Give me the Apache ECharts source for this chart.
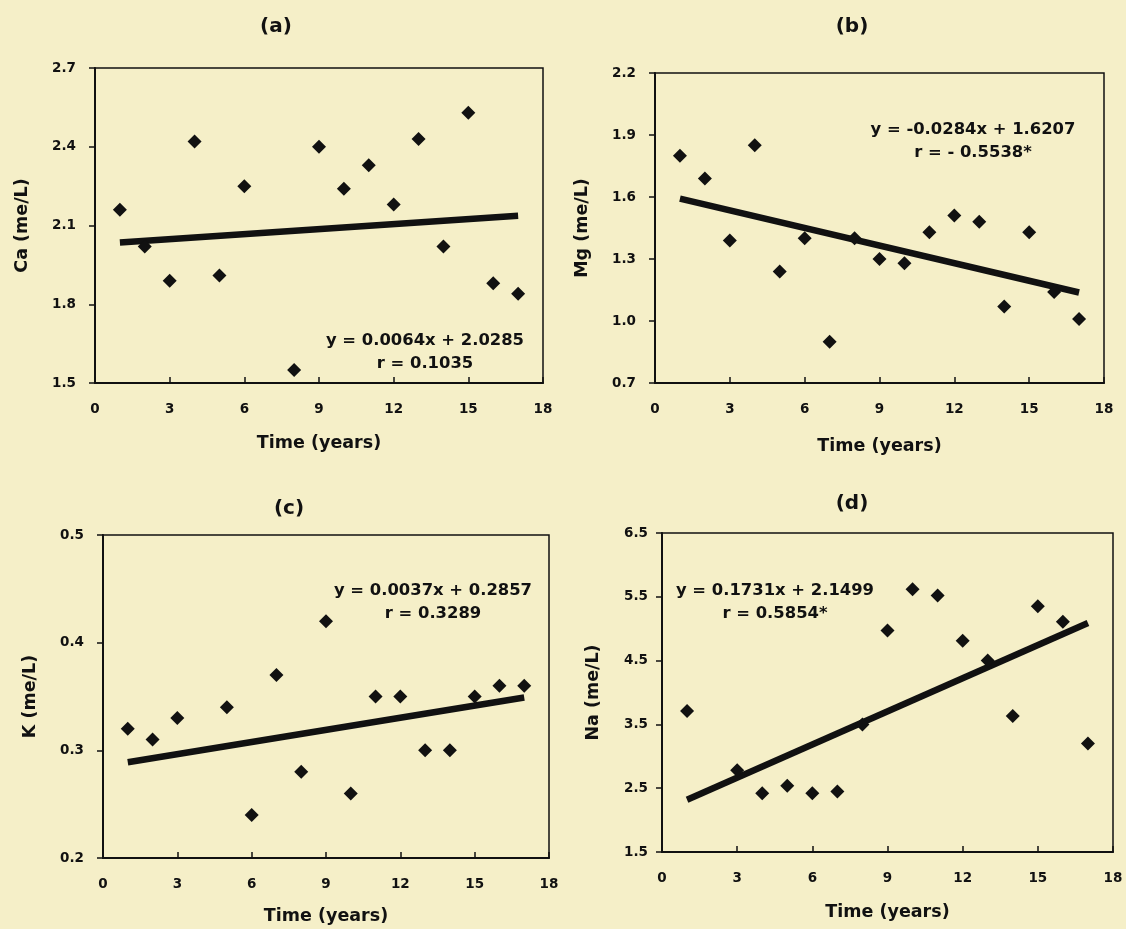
<!DOCTYPE html>
<html>
<head>
<meta charset="utf-8">
<script src="https://cdn.jsdelivr.net/npm/echarts@6/dist/echarts.min.js"></script>
<style>
html,body{margin:0;padding:0;background:#f5efc8;}
#chart{width:1126px;height:929px;}
</style>
</head>
<body>
<div id="chart"></div>
<script>
// ---- data ----
const caYears = [1,2,3,4,5,6,8,9,10,11,12,13,14,15,16,17];
const caValues = [2.16,2.02,1.89,2.42,1.91,2.25,1.55,2.40,2.24,2.33,2.18,2.43,2.02,2.53,1.88,1.84];
const caTrend = [[1,2.035],[17,2.137]];
const caTicks = [1.5,1.8,2.1,2.4,2.7];

const mgYears = [1,2,3,4,5,6,7,8,9,10,11,12,13,14,15,16,17];
const mgValues = [1.80,1.69,1.39,1.85,1.24,1.40,0.90,1.40,1.30,1.28,1.43,1.51,1.48,1.07,1.43,1.14,1.01];
const mgTrend = [[1,1.592],[17,1.138]];
const mgTicks = [0.7,1.0,1.3,1.6,1.9,2.2];

const kYears = [1,2,3,5,6,7,8,9,10,11,12,13,14,15,16,17];
const kValues = [0.32,0.31,0.33,0.34,0.24,0.37,0.28,0.42,0.26,0.35,0.35,0.30,0.30,0.35,0.36,0.36];
const kTrend = [[1,0.289],[17,0.349]];
const kTicks = [0.2,0.3,0.4,0.5];

const naYears = [1,3,4,5,6,7,8,9,10,11,12,13,14,15,16,17];
const naValues = [3.71,2.78,2.42,2.54,2.42,2.45,3.50,4.97,5.62,5.52,4.81,4.50,3.63,5.35,5.11,3.20];
const naTrend = [[1,2.32],[17,5.09]];
const naTicks = [1.5,2.5,3.5,4.5,5.5,6.5];

const timeTicks = [0,3,6,9,12,15,18];
const panelTitles = ['(a)','(b)','(c)','(d)'];
const yNames = ['Ca (me/L)','Mg (me/L)','K (me/L)','Na (me/L)'];
const xName = 'Time (years)';
const equations = [
  ['y = 0.0064x + 2.0285','r = 0.1035'],
  ['y = -0.0284x + 1.6207','r = - 0.5538*'],
  ['y = 0.0037x + 0.2857','r = 0.3289'],
  ['y = 0.1731x + 2.1499','r = 0.5854*']
];

// ---- layout ----
const FONT = 'DejaVu Sans';
const INK = '#111111';
const grids = [
  {left:95, top:68, width:448, height:315},
  {left:655, top:73, width:449, height:310},
  {left:103, top:535, width:446, height:323},
  {left:662, top:533, width:451, height:319}
];
const titlePos = [[276,27],[852,27],[289,509],[852,504]];
const eqPos = [[425,329],[973,118],[433,579],[775,579]];
const yLabelMargin = [19,19,19,14];
const yNameGap = [64,64,64,60];

const pts = (xs, ys) => xs.map((x,i)=>[x, ys[i]]);
const scatterSets = [pts(caYears,caValues), pts(mgYears,mgValues), pts(kYears,kValues), pts(naYears,naValues)];
const trendSets = [caTrend, mgTrend, kTrend, naTrend];
const yTickSets = [caTicks, mgTicks, kTicks, naTicks];

const labelFont = {fontFamily:FONT, fontWeight:'bold', fontSize:13.5, color:INK};
const nameFont = {fontFamily:FONT, fontWeight:'bold', fontSize:17.5, color:INK};

const option = {
  backgroundColor:'#f5efc8',
  animation:false,
  grid: grids.map(g=>Object.assign({show:true, borderColor:INK, borderWidth:1.5, backgroundColor:'transparent'}, g)),
  xAxis: grids.map((g,i)=>({
    type:'value', gridIndex:i, min:0, max:18, interval:3,
    name:xName, nameLocation:'middle', nameGap: [51,54,49,51][i],
    nameTextStyle: nameFont,
    axisLine:{show:true, onZero:false, lineStyle:{color:INK, width:2}},
    axisTick:{show:true, inside:true, length:6, lineStyle:{color:INK, width:1.5}, customValues: timeTicks},
    axisLabel:Object.assign({margin:19, customValues: timeTicks, formatter:v=>String(v)}, labelFont),
    splitLine:{show:false}
  })),
  yAxis: grids.map((g,i)=>{
    const t = yTickSets[i];
    return {
      type:'value', gridIndex:i, min:t[0], max:t[t.length-1],
      name:yNames[i], nameLocation:'middle', nameGap:yNameGap[i], nameRotate:90,
      nameTextStyle: nameFont,
      axisLine:{show:true, onZero:false, lineStyle:{color:INK, width:2}},
      axisTick:{show:true, inside:false, length:6, lineStyle:{color:INK, width:1.5}, customValues:t},
      axisLabel:Object.assign({margin:yLabelMargin[i], customValues:t, formatter:v=>v.toFixed(1)}, labelFont),
      splitLine:{show:false}
    };
  }),
  series: [].concat(
    trendSets.map((d,i)=>({
      type:'line', xAxisIndex:i, yAxisIndex:i, data:d, symbol:'none', z:2,
      lineStyle:{color:INK, width:6.5, cap:'butt'}
    })),
    scatterSets.map((d,i)=>({
      type:'scatter', xAxisIndex:i, yAxisIndex:i, data:d, symbol:'diamond', symbolSize:14, z:3,
      itemStyle:{color:INK, opacity:1}
    }))
  ),
  graphic: [].concat(
    panelTitles.map((t,i)=>({
      type:'text', x:titlePos[i][0], y:titlePos[i][1], z:10,
      style:{text:t, textAlign:'center', textVerticalAlign:'middle', fill:INK,
        font:'bold 20px "DejaVu Sans"'}
    })),
    equations.map((e,i)=>({
      type:'text', x:eqPos[i][0], y:eqPos[i][1], z:10,
      style:{text:e.join('\n'), textAlign:'center', textVerticalAlign:'top', fill:INK,
        font:'bold 16.4px "DejaVu Sans"', lineHeight:23}
    }))
  )
};
const chart = echarts.init(document.getElementById('chart'), null, {renderer:'canvas'});
chart.setOption(option);
</script>
</body>
</html>
